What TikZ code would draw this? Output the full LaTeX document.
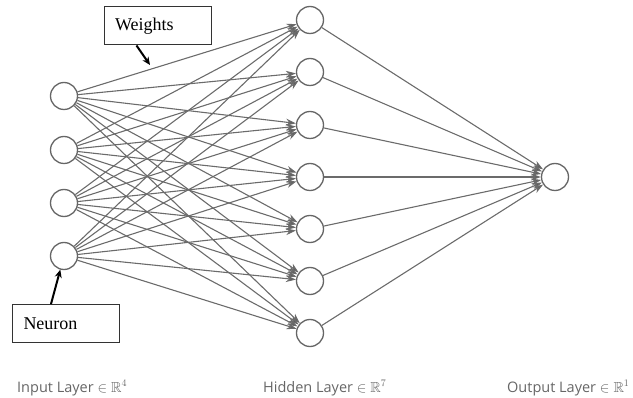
\documentclass[tikz,border=0pt]{standalone}
\usepackage{fontspec}
\usepackage{amssymb}
\setmainfont{Liberation Serif}
\newfontfamily\labelfont{Open Sans}
\usetikzlibrary{arrows.meta,calc}
\begin{document}
\begin{tikzpicture}[x=1pt,y=-1pt,
 neuron/.style={circle,draw=black!60,line width=1.3pt,minimum size=27pt,inner sep=0pt,fill=white},
 conn/.style={draw=black!58,line width=1.1pt,-{Stealth[length=10pt,width=7pt,fill=black!65]}},
 callout/.style={draw=black!80,line width=1pt,font=\fontsize{18}{20}\selectfont,text width=85pt,align=left,inner xsep=11pt,minimum height=38pt},
 pointer/.style={-{Stealth[length=8pt,width=7pt]},line width=2pt,black},
 layer/.style={font=\labelfont\fontsize{14.5}{16}\selectfont,text=black!60,anchor=west,inner sep=0pt}]
\useasboundingbox (0,0) rectangle (633,398);
\foreach \i/\y in {1/96,2/150,3/203,4/256} \node[neuron] (i\i) at (64,\y) {};
\foreach \j/\y in {1/20,2/72,3/125,4/177,5/229,6/281,7/333} \node[neuron] (h\j) at (310,\y) {};
\node[neuron] (o) at (555,177) {};
\foreach \i in {1,...,4} \foreach \j in {1,...,7} \draw[conn] (i\i) -- (h\j);
\foreach \j in {1,...,7} \draw[conn] (h\j) -- (o);
\node[callout] (weights) at (157.5,26) {Weights};
\node[callout] (neuron) at (66,323.5) {Neuron};
\coordinate (wt) at (150,65);
\draw[pointer] ($(weights.south west)+(33,0)$) -- (wt);
\draw[pointer] ($(neuron.north west)+(39,0)$) -- (i4);
\node[layer] (l1) at (17,388) {Input Layer $\in\mathbb{R}^4$};
\node[layer] (l2) at (263,388) {Hidden Layer $\in\mathbb{R}^7$};
\node[layer] (l3) at (507,388) {Output Layer $\in\mathbb{R}^1$};
\end{tikzpicture}
\end{document}
